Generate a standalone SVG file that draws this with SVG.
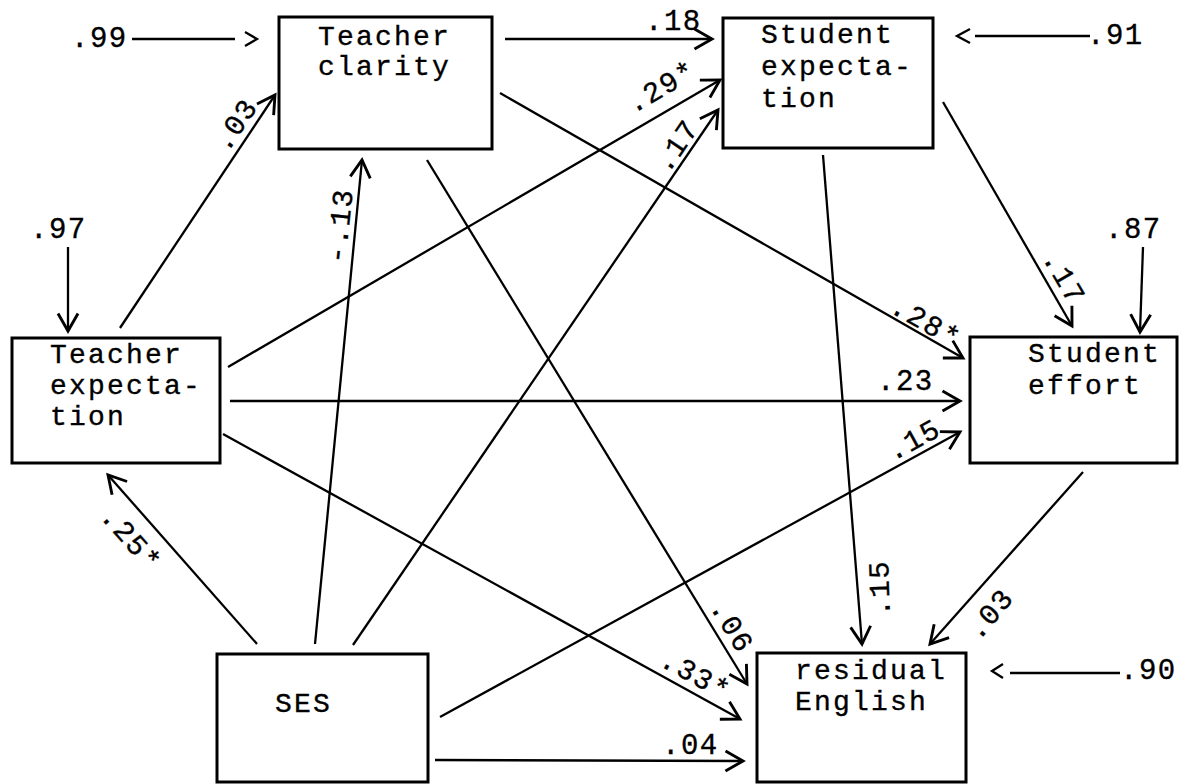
<svg xmlns="http://www.w3.org/2000/svg" width="1184" height="784" viewBox="0 0 1184 784">
<style>
.box{fill:#fff;stroke:#000;stroke-width:3}
.t{font-family:"Liberation Mono","Courier New",monospace;font-size:28px;letter-spacing:2.2px;fill:#000;stroke:#000;stroke-width:0.35}
.n{font-family:"Liberation Mono","Courier New",monospace;font-size:29px;letter-spacing:1.5px;fill:#000;stroke:#000;stroke-width:0.35}
.c line,.c path{stroke:#000;stroke-width:2.3;fill:none}
</style>
<defs>
<marker id="arr" markerUnits="userSpaceOnUse" markerWidth="30" markerHeight="30" refX="0" refY="0" viewBox="-16 -12 20 24" orient="auto" overflow="visible">
<path d="M-14,-8 L0,0 L-14,8" fill="none" stroke="#000" stroke-width="2.3"/>
</marker>
</defs>
<rect width="1184" height="784" fill="#fff"/>

<g class="c" id="connectors">
<line x1="132" y1="39" x2="235" y2="39"/>
<path d="M245,32 L257,39 L245,46"/>
<line x1="505" y1="39" x2="712" y2="39" marker-end="url(#arr)"/>
<path d="M970,29 L957,36 L970,43"/>
<line x1="975" y1="36" x2="1090" y2="36"/>
<line x1="68" y1="247" x2="68" y2="331" marker-end="url(#arr)"/>
<line x1="120" y1="328" x2="275" y2="95" marker-end="url(#arr)"/>
<line x1="315" y1="644" x2="362" y2="160" marker-end="url(#arr)"/>
<line x1="228" y1="367" x2="720" y2="80" marker-end="url(#arr)"/>
<line x1="353" y1="645" x2="718" y2="110" marker-end="url(#arr)"/>
<line x1="500" y1="93" x2="963" y2="358" marker-end="url(#arr)"/>
<line x1="943" y1="102" x2="1072" y2="326" marker-end="url(#arr)"/>
<line x1="1143" y1="247" x2="1140" y2="332" marker-end="url(#arr)"/>
<line x1="230" y1="401" x2="960" y2="401" marker-end="url(#arr)"/>
<line x1="440" y1="717" x2="960" y2="432" marker-end="url(#arr)"/>
<line x1="223" y1="434" x2="740" y2="719" marker-end="url(#arr)"/>
<line x1="427" y1="160" x2="747" y2="684" marker-end="url(#arr)"/>
<line x1="435" y1="760" x2="743" y2="761" marker-end="url(#arr)"/>
<line x1="823" y1="155" x2="862" y2="644" marker-end="url(#arr)"/>
<line x1="1083" y1="472" x2="930" y2="644" marker-end="url(#arr)"/>
<path d="M1003,664 L992,671 L1003,678"/>
<line x1="1010" y1="673" x2="1120" y2="673"/>
<line x1="257" y1="644" x2="108" y2="475" marker-end="url(#arr)"/>
</g>

<g id="labels">
<text class="n" x="71" y="47">.99</text>
<text class="n" x="645" y="30">.18</text>
<text class="n" x="1087" y="44">.91</text>
<text class="n" x="30" y="238">.97</text>
<text class="n" x="1105" y="238">.87</text>
<text class="n" x="877" y="390">.23</text>
<text class="n" x="662" y="754">.04</text>
<text class="n" x="1120" y="679">.90</text>
<text class="n" text-anchor="middle" transform="translate(243,130) rotate(-56)">.03</text>
<text class="n" text-anchor="middle" transform="translate(349,227) rotate(-84)">-.13</text>
<text class="n" text-anchor="middle" transform="translate(666,95) rotate(-30.3)">.29*</text>
<text class="n" text-anchor="middle" transform="translate(684,151) rotate(-55.7)">.17</text>
<text class="n" text-anchor="middle" transform="translate(921,330) rotate(29.8)">.28*</text>
<text class="n" text-anchor="middle" transform="translate(1056,282) rotate(60)">.17</text>
<text class="n" text-anchor="middle" transform="translate(124,545) rotate(48.6)">.25*</text>
<text class="n" text-anchor="middle" transform="translate(918,448) rotate(-28.7)">.15</text>
<text class="n" text-anchor="middle" transform="translate(691,683) rotate(28.9)">.33*</text>
<text class="n" text-anchor="middle" transform="translate(724,631) rotate(58.6)">.06</text>
<text class="n" text-anchor="middle" transform="translate(889,588) rotate(-92)">.15</text>
<text class="n" text-anchor="middle" transform="translate(997,620) rotate(-50)">.03</text>
</g>

<g id="teacher-clarity">
<rect class="box" x="279" y="17" width="213" height="132"/>
<text class="t" x="318" y="45">Teacher</text>
<text class="t" x="318" y="75">clarity</text>
</g>
<g id="student-expectation">
<rect class="box" x="723" y="18" width="210" height="130"/>
<text class="t" x="761" y="43">Student</text>
<text class="t" x="761" y="75">expecta-</text>
<text class="t" x="761" y="107">tion</text>
</g>
<g id="teacher-expectation">
<rect class="box" x="12" y="338" width="208" height="125"/>
<text class="t" x="50" y="363">Teacher</text>
<text class="t" x="50" y="394">expecta-</text>
<text class="t" x="50" y="425">tion</text>
</g>
<g id="student-effort">
<rect class="box" x="970" y="337" width="207" height="126"/>
<text class="t" x="1028" y="362">Student</text>
<text class="t" x="1028" y="394">effort</text>
</g>
<g id="ses">
<rect class="box" x="217" y="654" width="211" height="128"/>
<text class="t" x="275" y="712">SES</text>
</g>
<g id="residual-english">
<rect class="box" x="757" y="653" width="209" height="129"/>
<text class="t" x="795" y="679">residual</text>
<text class="t" x="795" y="710">English</text>
</g>
</svg>
